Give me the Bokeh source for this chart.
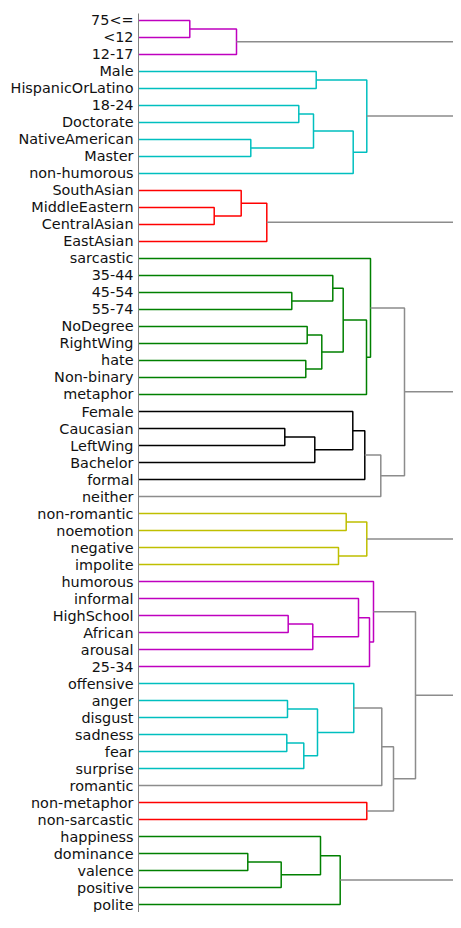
from bokeh.plotting import figure
from bokeh.models import Range1d, ColumnDataSource
from bokeh.core.properties import value
from bokeh.embed import file_html
from bokeh.resources import INLINE

# Leaf labels, top to bottom
leaves = ["75<=", "<12", "12-17", "Male", "HispanicOrLatino", "18-24", "Doctorate",
          "NativeAmerican", "Master", "non-humorous", "SouthAsian", "MiddleEastern",
          "CentralAsian", "EastAsian", "sarcastic", "35-44", "45-54", "55-74", "NoDegree",
          "RightWing", "hate", "Non-binary", "metaphor", "Female", "Caucasian", "LeftWing",
          "Bachelor", "formal", "neither", "non-romantic", "noemotion", "negative",
          "impolite", "humorous", "informal", "HighSchool", "African", "arousal", "25-34",
          "offensive", "anger", "disgust", "sadness", "fear", "surprise", "romantic",
          "non-metaphor", "non-sarcastic", "happiness", "dominance", "valence", "positive",
          "polite"]

# Linkage: node ids 0..52 are leaves, merges get ids 53, 54, ...
link_left = [0, 53, 3, 5, 7, 56, 58, 55, 11, 10, 62, 16, 15, 18, 20, 66, 65, 69, 14,
             24, 72, 23, 74, 75, 71, 29, 31, 78, 35, 81, 34, 83, 33, 40, 42, 87, 86, 39,
             90, 46, 91, 85, 49, 95, 48, 97,
             54, 99, 77, 94, 101, 100]
link_right = [1, 2, 4, 6, 8, 57, 9, 59, 12, 61, 13, 17, 64, 19, 21, 67, 68, 22, 70,
              25, 26, 73, 27, 28, 76, 30, 32, 79, 36, 37, 82, 38, 84, 41, 43, 44, 88, 89,
              45, 47, 92, 93, 50, 51, 96, 52,
              60, 63, 80, 98, 102, 103]
link_height = [51.3, 98.0, 177.7, 160.3, 112.3, 175.0, 214.7, 228.3, 75.7, 102.7, 128.3,
               153.3, 194.3, 168.7, 167.3, 183.3, 204.7, 228.0, 232.0,
               146.3, 176.3, 214.3, 226.3, 242.3, 266.0, 207.7, 200.0, 228.3,
               149.7, 174.3, 220.0, 231.0, 235.0, 149.0, 148.3, 165.3, 179.0, 215.3,
               243.3, 228.3, 255.0, 277.0, 109.3, 142.7, 182.0, 201.7,
               345.0, 380.0, 340.0, 360.0, 395.0, 430.0]
link_color = ["m", "m", "c", "c", "c", "c", "c", "c", "r", "r", "r",
              "g", "g", "g", "g", "g", "g", "g", "g",
              "k", "k", "k", "k", "o", "o", "y", "y", "y",
              "m", "m", "m", "m", "m", "c", "c", "c", "c", "c",
              "o", "r", "o", "o", "g", "g", "g", "g",
              "o", "o", "o", "o", "o", "o"]

palette = {"m": "#bf00bf", "c": "#00bfbf", "r": "#ff0000", "g": "#008000",
           "k": "#000000", "y": "#bfbf00", "o": "#8c8c8c"}

n = len(leaves)
pos = {i: (float(i), 0.0) for i in range(n)}   # node -> (y centre, height)
xs, ys, cols = [], [], []
for k, (a, b, h) in enumerate(zip(link_left, link_right, link_height)):
    ya, ha = pos[a]
    yb, hb = pos[b]
    xs.append([ha, h, h, hb])
    ys.append([ya, ya, yb, yb])
    cols.append(palette[link_color[k]])
    pos[n + k] = ((ya + yb) / 2.0, h)

p = figure(width=453, height=912, output_backend="svg", toolbar_location=None,
           x_range=Range1d(-138, 315), y_range=Range1d(52.47, -1.176),
           min_border=0)
p.axis.visible = False
p.grid.visible = False
p.outline_line_color = None
p.background_fill_color = "white"

p.multi_line(xs=xs, ys=ys, line_color=cols, line_width=1.5)

# left spine
p.line(x=[0, 0], y=[-0.412, 54], line_color="#808080", line_width=1)

src = ColumnDataSource(dict(x=[-5.0] * n, y=list(range(n)), t=leaves))
p.text(x="x", y="y", text="t", source=src, text_align="right", text_baseline="middle",
       text_font=value("DejaVu Sans"), text_font_size="14.4px", text_color="#111111")

open("out.html", "w").write(file_html(p, INLINE))
